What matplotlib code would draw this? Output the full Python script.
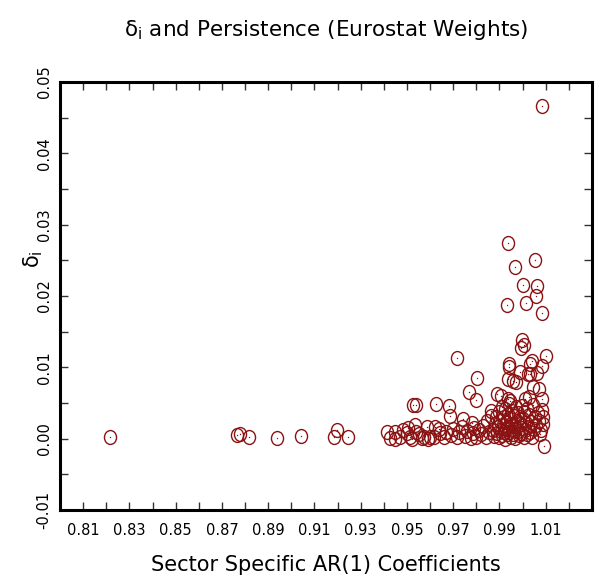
import numpy as np
import matplotlib
matplotlib.use("Agg")
import matplotlib.pyplot as plt
from matplotlib.path import Path
from matplotlib.ticker import FixedLocator, FormatStrFormatter

# sector specific AR(1) coefficients and delta_i (Eurostat weights)
ar_left = [0.8216, 0.8767, 0.8778, 0.8819, 0.8937, 0.9041, 0.9185, 0.9196, 0.9246]
delta_left = [0.0003, 0.0005, 0.0007, 0.0003, 0.0001, 0.0004, 0.0003, 0.0012, 0.0003]

ar_mid = [0.9412, 0.9427, 0.9448, 0.9448, 0.9470, 0.9484, 0.9499, 0.9506, 0.9513, 0.9520,
          0.9535, 0.9539, 0.9553, 0.9565, 0.9575, 0.9585, 0.9590, 0.9600, 0.9621, 0.9615,
          0.9640, 0.9645, 0.9662, 0.9528, 0.9539, 0.9626, 0.9683, 0.9688, 0.9715, 0.9802,
          0.9770, 0.9799, 0.9744, 0.9780, 0.9670, 0.9690, 0.9700, 0.9715, 0.9725, 0.9740,
          0.9750, 0.9760, 0.9775, 0.9785, 0.9790, 0.9800, 0.9810, 0.9820, 0.9830, 0.9840,
          0.9845, 0.9855, 0.9862, 0.9865]
delta_mid = [0.0010, 0.0001, 0.0009, 0.0000, 0.0003, 0.0012, 0.0008, 0.0015, 0.0003, -0.0001,
             0.0019, 0.0010, 0.0006, 0.0001, 0.0003, 0.0017, -0.0001, 0.0003, 0.0017, 0.0003,
             0.0013, 0.0008, 0.0003, 0.0047, 0.0047, 0.0048, 0.0046, 0.0032, 0.0113, 0.0085,
             0.0065, 0.0054, 0.0028, 0.0022, 0.0010, 0.0005, 0.0014, 0.0002, 0.0009, 0.0016,
             0.0004, 0.0011, 0.0001, 0.0008, 0.0015, 0.0003, 0.0012, 0.0006, 0.0018, 0.0002,
             0.0025, 0.0010, 0.0039, 0.0032]

ar_high = [1.0086, 0.9938, 1.0054, 0.9967, 1.0000, 1.0061, 1.0058, 0.9933, 1.0013, 1.0084,
           0.9996, 1.0008, 0.9992, 1.0101, 0.9943, 0.9941, 1.0040, 1.0033, 1.0086, 0.9989,
           1.0025, 1.0033, 1.0061, 0.9938, 0.9957, 0.9971, 1.0047, 1.0069, 0.9891, 0.9905,
           0.9936, 0.9946, 1.0012, 1.0027, 1.0082, 1.0093, 1.0075]
delta_high = [0.0466, 0.0274, 0.0250, 0.0241, 0.0216, 0.0214, 0.0200, 0.0187, 0.0190, 0.0176,
              0.0138, 0.0132, 0.0127, 0.0116, 0.0105, 0.0101, 0.0109, 0.0104, 0.0102, 0.0093,
              0.0090, 0.0090, 0.0092, 0.0084, 0.0081, 0.0080, 0.0073, 0.0070, 0.0063, 0.0060,
              0.0056, 0.0053, 0.0056, 0.0058, 0.0055, -0.0010, 0.0007]

ar_dense = [0.9870, 0.9875, 0.9880, 0.9885, 0.9890, 0.9893, 0.9897, 0.9900, 0.9903, 0.9907,
            0.9910, 0.9912, 0.9915, 0.9918, 0.9920, 0.9923, 0.9925, 0.9928, 0.9930, 0.9933,
            0.9936, 0.9938, 0.9940, 0.9943, 0.9946, 0.9949, 0.9952, 0.9955, 0.9957, 0.9960,
            0.9963, 0.9966, 0.9969, 0.9972, 0.9975, 0.9978, 0.9981, 0.9984, 0.9987, 0.9990,
            0.9993, 0.9996, 0.9999, 1.0002, 1.0005, 1.0008, 1.0011, 1.0014, 1.0018, 1.0021,
            1.0025, 1.0029, 1.0033, 1.0037, 1.0041, 1.0045, 1.0050, 1.0055, 1.0060, 1.0065,
            1.0070, 1.0078, 1.0083, 1.0087, 1.0090]
delta_dense = [0.0012, 0.0004, 0.0021, 0.0030, 0.0008, 0.0016, 0.0002, 0.0037, 0.0025, 0.0011,
               0.0045, 0.0005, 0.0019, 0.0031, 0.0009, 0.0000, 0.0041, 0.0014, 0.0024, 0.0006,
               0.0035, 0.0017, 0.0048, 0.0010, 0.0028, 0.0003, 0.0021, 0.0039, 0.0013, 0.0007,
               0.0032, 0.0018, 0.0001, 0.0044, 0.0025, 0.0011, 0.0036, 0.0005, 0.0020, 0.0030,
               0.0008, 0.0046, 0.0015, 0.0027, 0.0003, 0.0038, 0.0012, 0.0022, 0.0042, 0.0006,
               0.0017, 0.0033, 0.0009, 0.0024, 0.0002, 0.0047, 0.0014, 0.0030, 0.0019, 0.0036,
               0.0025, 0.0012, 0.0040, 0.0020, 0.0030]

ar = np.array(ar_left + ar_mid + ar_high + ar_dense)
delta = np.array(delta_left + delta_mid + delta_high + delta_dense)

x_labels = [0.81, 0.83, 0.85, 0.87, 0.89, 0.91, 0.93, 0.95, 0.97, 0.99, 1.01]
y_labels = [-0.01, 0.00, 0.01, 0.02, 0.03, 0.04, 0.05]

color = "#8a1212"

# slightly tall ellipse marker
circ = Path.unit_circle()
ellipse = Path(circ.vertices * np.array([1.0, 1.15]), circ.codes)

fig = plt.figure(figsize=(5.97, 5.82), dpi=100)
ax = fig.add_axes([0.1005, 0.1237, 0.8911, 0.7354])

ax.plot(ar, delta, linestyle="none", marker=ellipse, markersize=10,
        markerfacecolor="none", markeredgecolor=color, markeredgewidth=1.0)
ax.plot(ar, delta, linestyle="none", marker="o", markersize=1.0,
        markerfacecolor=color, markeredgecolor=color, markeredgewidth=0)

ax.set_xlim(0.80, 1.03)
ax.set_ylim(-0.01, 0.05)

ax.xaxis.set_major_locator(FixedLocator(x_labels))
ax.xaxis.set_minor_locator(FixedLocator(np.round(np.arange(0.80, 1.03, 0.02), 2)))
ax.xaxis.set_major_formatter(FormatStrFormatter("%.2f"))
ax.yaxis.set_major_locator(FixedLocator(y_labels))
ax.yaxis.set_minor_locator(FixedLocator(np.arange(-0.005, 0.05, 0.01)))
ax.yaxis.set_major_formatter(FormatStrFormatter("%.2f"))

ax.tick_params(which="both", direction="in", length=6, width=1,
               top=True, right=True, labelsize=10.5, color="#333333")
ax.tick_params(axis="x", which="major", pad=9)
ax.tick_params(axis="y", which="major", pad=6)
for lab in ax.get_yticklabels():
    lab.set_rotation(90)
    lab.set_va("center")

for sp in ax.spines.values():
    sp.set_linewidth(2.2)

# centre the texts over the plotting box, like the original
xc = 0.1005 + 0.8911 / 2
fig.text(xc, 0.948, "δ$_\\mathrm{i}$ and Persistence (Eurostat Weights)",
         ha="center", va="center", fontsize=15.5)
fig.text(xc, 0.029, "Sector Specific AR(1) Coefficients",
         ha="center", va="center", fontsize=15)
fig.text(0.055, 0.555, "δ$_\\mathrm{i}$", ha="center", va="center",
         fontsize=15, rotation=90)

fig.savefig("out.png", dpi=100)
